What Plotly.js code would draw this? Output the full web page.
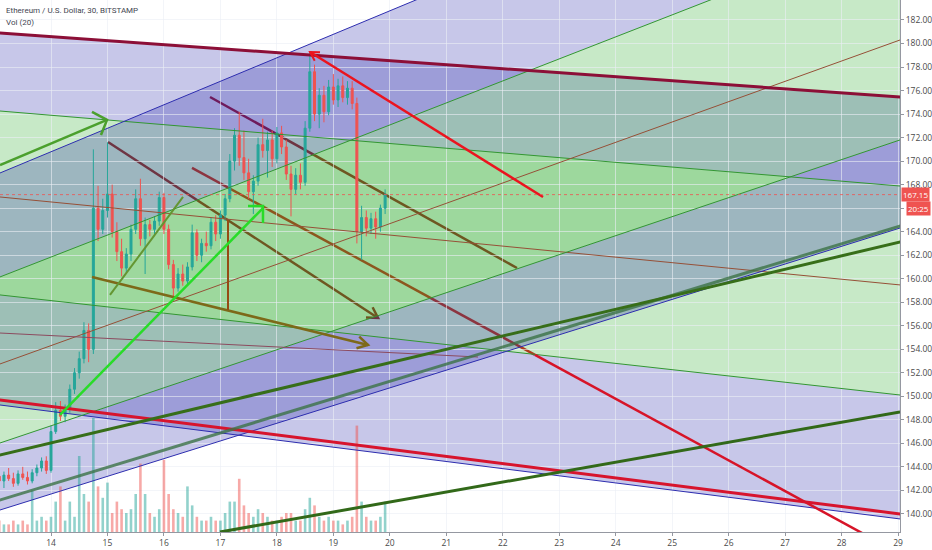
<!DOCTYPE html>
<html>
<head>
<meta charset="utf-8">
<script src="https://cdn.plot.ly/plotly-3.0.1.min.js"></script>
<style>
  html, body { margin: 0; padding: 0; background: #fff; }
  #chart { width: 932px; height: 550px; }
</style>
</head>
<body>
<div id="chart"></div>
<script>
// 2-hour candles, Jan 13 02:00 -> Jan 19 22:00 (2020)
var opens = [
    143.2, 142.8, 143.3, 143.0, 142.6, 143.4, 143.1, 142.8, 143.5, 143.9, 144.5,
    143.7, 147.0, 148.8, 148.3, 149.0, 150.6, 152.0, 153.2, 155.6, 154.0, 166.0, 164.2,
    165.8, 167.2, 164.0, 162.3, 160.9, 162.1, 164.2, 166.8, 163.4, 164.6, 164.2, 164.9,
    166.9, 164.2, 161.2, 159.2, 160.4, 159.8, 161.0, 163.9, 162.0, 163.0, 162.8, 164.8,
    163.8, 165.4, 166.8, 170.0, 172.2, 170.3, 169.0, 167.4, 168.3, 171.4, 170.9, 171.8,
    170.2, 172.4, 171.2, 168.9, 167.6, 168.8, 168.2, 172.8, 177.6, 174.0, 175.6, 174.2,
    176.3, 175.2, 176.4, 175.4, 176.2, 174.9, 164.0, 165.2, 164.3, 165.1, 164.4, 166.0
];
var highs = [
    143.8, 143.6, 143.9, 143.5, 143.7, 144.0, 143.6, 143.8, 144.2, 144.8, 144.9,
    147.5, 149.5, 149.6, 149.3, 151.0, 152.4, 153.8, 156.3, 156.2, 171.0, 167.9, 166.8,
    171.6, 168.0, 164.8, 163.4, 162.6, 164.6, 167.6, 168.5, 165.2, 165.0, 165.3, 167.4,
    167.3, 164.6, 161.6, 160.9, 161.2, 161.4, 164.6, 164.2, 163.4, 164.0, 165.2, 165.4,
    165.8, 167.2, 170.6, 172.8, 174.2, 172.6, 170.2, 168.8, 172.0, 173.6, 172.5, 172.6,
    172.9, 173.0, 171.8, 169.6, 169.4, 169.8, 173.4, 179.3, 178.2, 176.2, 176.4, 176.9,
    177.4, 177.0, 177.2, 176.8, 176.8, 175.4, 166.2, 165.8, 165.6, 165.7, 166.3, 167.6
];
var lows = [
    142.4, 142.2, 142.8, 142.3, 142.4, 142.9, 142.5, 142.6, 143.2, 143.6, 143.4,
    143.5, 146.8, 147.9, 147.8, 148.6, 150.2, 151.5, 152.8, 152.9, 153.6, 163.2, 163.8,
    165.2, 163.5, 161.5, 160.2, 160.5, 161.5, 163.8, 162.8, 160.4, 163.6, 163.8, 164.5,
    163.8, 160.8, 158.5, 158.9, 159.4, 159.5, 160.7, 161.5, 161.4, 162.3, 162.5, 163.2,
    163.4, 164.9, 166.5, 169.2, 169.6, 168.4, 166.8, 165.5, 167.9, 170.3, 168.6, 169.5,
    169.8, 170.6, 168.4, 165.3, 167.2, 167.6, 167.9, 172.5, 173.4, 172.8, 173.3, 173.9,
    174.8, 174.6, 175.0, 174.8, 174.4, 163.0, 161.6, 163.6, 163.8, 163.4, 164.0, 165.5
];
var closes = [
    142.8, 143.3, 143.0, 142.6, 143.4, 143.1, 142.8, 143.5, 143.9, 144.5, 143.7,
    147.0, 148.8, 148.3, 149.0, 150.6, 152.0, 153.2, 155.6, 154.0, 166.0, 164.2, 165.8,
    167.2, 164.0, 162.3, 160.9, 162.1, 164.2, 166.8, 163.4, 164.6, 164.2, 164.9, 166.9,
    164.2, 161.2, 159.2, 160.4, 159.8, 161.0, 163.9, 162.0, 163.0, 162.8, 164.8, 163.8,
    165.4, 166.8, 170.0, 172.2, 170.3, 169.0, 167.4, 168.3, 171.4, 170.9, 171.8, 170.2,
    172.4, 171.2, 168.9, 167.6, 168.8, 168.2, 172.8, 177.6, 174.0, 175.6, 174.2, 176.3,
    175.2, 176.4, 175.4, 176.2, 174.9, 164.0, 165.2, 164.3, 165.1, 164.4, 166.0, 167.15
];
var volumes = [
    3, 2, 2, 3, 2, 3, 2, 11, 3, 4, 3,
    4, 8, 12, 3, 8, 4, 20, 10, 8, 30, 12, 9,
    13, 5, 8, 6, 5, 6, 10, 18, 10, 5, 4, 6,
    19, 10, 6, 5, 4, 12, 7, 4, 3, 3, 4, 3,
    3, 5, 8, 8, 14, 7, 5, 4, 6, 5, 4, 3,
    3, 4, 5, 5, 3, 3, 6, 9, 7, 4, 3, 4,
    3, 3, 2, 3, 4, 28, 8, 4, 3, 3, 4, 8
];
var lastPrice = 167.15;
var priceTicks = [140, 142, 144, 146, 148, 150, 152, 154, 156, 158, 160, 162, 164, 166, 168, 170, 172, 174, 176, 178, 180, 182];
// 166.00 sits behind the countdown label, as on the original
var priceLabels = ['140.00', '142.00', '144.00', '146.00', '148.00', '150.00', '152.00', '154.00', '156.00', '158.00', '160.00',
    '162.00', '164.00', '', '168.00', '170.00', '172.00', '174.00', '176.00', '178.00', '180.00', '182.00'];

// drawings: [day of January 2020, price]
var descTop = [[13.097, 180.90], [29.035, 175.45]];
var descG1 = [[13.097, 174.26], [29.035, 167.88]];
var descMid = [[13.097, 166.95], [29.035, 159.47]];
var descG2 = [[13.097, 158.62], [29.035, 150.11]];
var descBot = [[13.097, 149.26], [29.035, 139.57]];
var riseTop = [[13.097, 168.99], [29.035, 200.83]];
var riseG1 = [[13.097, 160.15], [29.035, 189.99]];
var riseMid = [[13.097, 152.75], [29.035, 180.30]];
var riseG2 = [[13.097, 146.03], [29.035, 171.80]];
var riseBot = [[13.097, 140.33], [29.035, 164.31]];

var redLow = [[13.097, 149.69], [29.035, 140.00]];
var greenA = [[13.097, 145.01], [29.035, 163.12]];
var greenB = [[13.097, 141.18], [29.035, 164.48]];
var greenC = [[16.993, 138.46], [29.035, 148.67]];
var greenArrow = [[13.097, 169.67], [14.992, 173.50]];
var greenArrowHead = [[14.726, 174.18], [14.992, 173.50], [14.885, 172.22]];
var peakRed = [[18.587, 179.28], [22.713, 166.95]];
var peakRedHead = [[18.670, 178.53], [18.587, 179.28], [18.764, 179.25]];
var lineB = [[16.816, 175.45], [22.252, 160.91]];
var arrowC = [[15.009, 171.63], [19.791, 156.66]];
var arrowCHead = [[19.695, 157.57], [19.791, 156.66], [19.578, 156.71]];
var lineDUpper = [[16.497, 169.42], [22.571, 153.52]];
var lineDLower = [[22.571, 153.52], [28.6, 137.75]];
var arrowE = [[14.726, 160.15], [19.614, 154.36]];
var arrowEHead = [[19.459, 155.07], [19.614, 154.36], [19.410, 154.08]];
var vertLine = [[17.134, 164.99], [17.134, 157.34]];
var limeArrow = [[14.159, 148.41], [17.754, 166.01]];
var limeArrowHead = [[17.489, 166.18], [17.754, 166.18], [17.754, 164.74]];
var oliveLine = [[15.045, 158.62], [16.338, 166.95]];
var thinBrown = [[13.097, 155.38], [21.562, 153.34]];

function t(d) {
    var ms = Date.UTC(2020, 0, 1) + (d - 1) * 864e5;
    return new Date(ms).toISOString().slice(0, 19).replace('T', ' ');
}
function tp(d) {
    return t(d).replace(' ', '_');
}
function ext(l, d0, d1) {
    var s = (l[1][1] - l[0][1]) / (l[1][0] - l[0][0]);
    return [[d0, l[0][1] + s * (d0 - l[0][0])], [d1, l[0][1] + s * (d1 - l[0][0])]];
}
function poly(pts, color, width, fill, layer) {
    var path = 'M' + pts.map(function(q) { return tp(q[0]) + ',' + q[1]; }).join(' L');
    if (fill) path += ' Z';
    return {
        type: 'path', xref: 'x', yref: 'y', layer: layer || 'above', path: path,
        fillcolor: fill || 'rgba(0,0,0,0)',
        line: {color: color, width: width}
    };
}
function band(a, b, color) {
    a = ext(a, 12.5, 29.6);
    b = ext(b, 12.5, 29.6);
    return poly([a[0], a[1], b[1], b[0]], 'rgba(0,0,0,0)', 0, color, 'below');
}
function chan(l, color) {
    return poly(ext(l, 12.5, 29.6), color, 1);
}

var up = '#26a69a', down = '#ef5350';
var blueFill = 'rgba(40,40,170,0.26)';
var greenFill = 'rgba(40,170,40,0.26)';
var blueLine = 'rgb(45,45,175)';
var greenLine = 'rgb(50,150,50)';
var midLine = 'rgb(150,80,55)';

var times = [];
var volColors = [];
for (var i = 0; i < closes.length; i++) {
    times.push(t(13 + (2 + 2 * i) / 24));
    volColors.push(closes[i] >= opens[i] ? 'rgba(38,166,154,0.5)' : 'rgba(239,83,80,0.5)');
}

var shapes = [
    // drawings that sit under the channel fills
    poly(lineB, 'rgb(170,20,30)', 2.5, null, 'below'),
    poly(arrowC, 'rgb(170,20,30)', 2.5, null, 'below'),
    poly(arrowCHead, 'rgb(170,20,30)', 2.5, null, 'below'),
    poly(lineDUpper, 'rgb(225,20,25)', 2.5, null, 'below'),

    band(descTop, descG1, blueFill),
    band(descG1, descG2, greenFill),
    band(descG2, descBot, blueFill),
    band(riseTop, riseG1, blueFill),
    band(riseG1, riseG2, greenFill),
    band(riseG2, riseBot, blueFill),

    chan(descTop, blueLine), chan(descG1, greenLine), chan(descMid, midLine),
    chan(descG2, greenLine), chan(descBot, blueLine),
    chan(riseTop, blueLine), chan(riseG1, greenLine), chan(riseMid, midLine),
    chan(riseG2, greenLine), chan(riseBot, blueLine),

    poly(lineDLower, 'rgb(215,20,40)', 2.5),
    poly(thinBrown, 'rgb(140,75,95)', 1),
    poly(ext(descTop, 12.5, 29.6), 'rgb(140,15,55)', 3),
    poly(ext(redLow, 12.5, 29.6), 'rgb(215,20,45)', 3),
    poly(ext(greenB, 12.5, 29.6), 'rgba(60,115,70,0.8)', 3),
    poly(ext(greenA, 12.5, 29.6), 'rgb(55,110,25)', 3),
    poly(greenC, 'rgb(50,105,25)', 3),
    poly(greenArrow, 'rgb(75,160,45)', 2.5),
    poly(greenArrowHead, 'rgb(75,160,45)', 2.5),
    poly(peakRed, 'rgb(235,20,30)', 2.5),
    poly(peakRedHead, 'rgb(235,20,30)', 2),
    poly(arrowE, 'rgb(125,105,25)', 2.5),
    poly(arrowEHead, 'rgb(125,105,25)', 2.5),
    poly(vertLine, 'rgb(150,75,20)', 2),
    poly(oliveLine, 'rgb(100,150,50)', 2),
    poly(limeArrow, 'rgb(40,220,40)', 2.5),
    poly(limeArrowHead, 'rgb(40,220,40)', 2.5),
    {
        type: 'line', xref: 'paper', yref: 'y', x0: 0, x1: 1, y0: lastPrice, y1: lastPrice,
        layer: 'above', line: {color: 'rgba(239,83,80,0.8)', width: 1, dash: 'dot'}
    }
];

var data = [
    {
        type: 'bar',
        x: times,
        y: volumes,
        yaxis: 'y2',
        marker: {color: volColors, line: {width: 0}},
        hoverinfo: 'none',
        showlegend: false
    },
    {
        type: 'candlestick',
        x: times,
        open: opens,
        high: highs,
        low: lows,
        close: closes,
        increasing: {line: {color: up, width: 1}, fillcolor: up},
        decreasing: {line: {color: down, width: 1}, fillcolor: down},
        whiskerwidth: 0,
        hoverinfo: 'none',
        showlegend: false
    }
];

var tickFont = {family: 'Open Sans, sans-serif', size: 8.5, color: '#4a4a4a'};
var labelFont = {family: 'Roboto, sans-serif', size: 8, color: '#434651'};

var layout = {
    width: 932,
    height: 550,
    margin: {l: 0, r: 32, t: 0, b: 18},
    paper_bgcolor: '#ffffff',
    plot_bgcolor: '#ffffff',
    showlegend: false,
    bargap: 0.45,
    boxgap: 0.4,
    hovermode: false,
    xaxis: {
        type: 'date',
        range: [t(13.0969), t(29.0345)],
        tick0: '2020-01-14',
        dtick: 864e5,
        tickformat: '%-d',
        ticks: 'outside',
        ticklen: 3,
        tickcolor: '#9598a1',
        showline: true,
        linecolor: '#9598a1',
        gridcolor: 'rgba(235,238,245,0.6)',
        tickfont: tickFont,
        rangeslider: {visible: false},
        fixedrange: true
    },
    yaxis: {
        side: 'right',
        range: [138.46, 183.70],
        tickvals: priceTicks,
        ticktext: priceLabels,
        ticks: 'outside',
        ticklen: 3,
        tickcolor: '#9598a1',
        showline: true,
        linecolor: '#9598a1',
        gridcolor: 'rgba(235,238,245,0.6)',
        zeroline: false,
        tickfont: tickFont,
        fixedrange: true
    },
    yaxis2: {
        overlaying: 'y',
        range: [0, 140],
        visible: false,
        fixedrange: true
    },
    shapes: shapes,
    annotations: [
        {
            xref: 'paper', yref: 'paper', x: 0.004, y: 0.98, xanchor: 'left', yanchor: 'middle',
            text: 'Ethereum / U.S. Dollar, 30, BITSTAMP', showarrow: false, font: labelFont
        },
        {
            xref: 'paper', yref: 'paper', x: 0.004, y: 0.958, xanchor: 'left', yanchor: 'middle',
            text: 'Vol (20)', showarrow: false, font: labelFont
        },
        {
            xref: 'paper', yref: 'y', x: 1, y: lastPrice, xanchor: 'left', yanchor: 'middle', xshift: 1,
            text: lastPrice.toFixed(2), showarrow: false, bgcolor: '#ef5350', borderpad: 1,
            font: {family: 'Open Sans, sans-serif', size: 8, color: '#ffffff'}
        },
        {
            xref: 'paper', yref: 'y', x: 1, y: lastPrice, xanchor: 'left', yanchor: 'middle', xshift: 6, yshift: -14,
            text: '20:25', showarrow: false, bgcolor: '#ef5350', borderpad: 1,
            font: {family: 'Open Sans, sans-serif', size: 8, color: '#ffffff'}
        }
    ]
};

Plotly.newPlot('chart', data, layout, {displayModeBar: false, staticPlot: true});
</script>
</body>
</html>
